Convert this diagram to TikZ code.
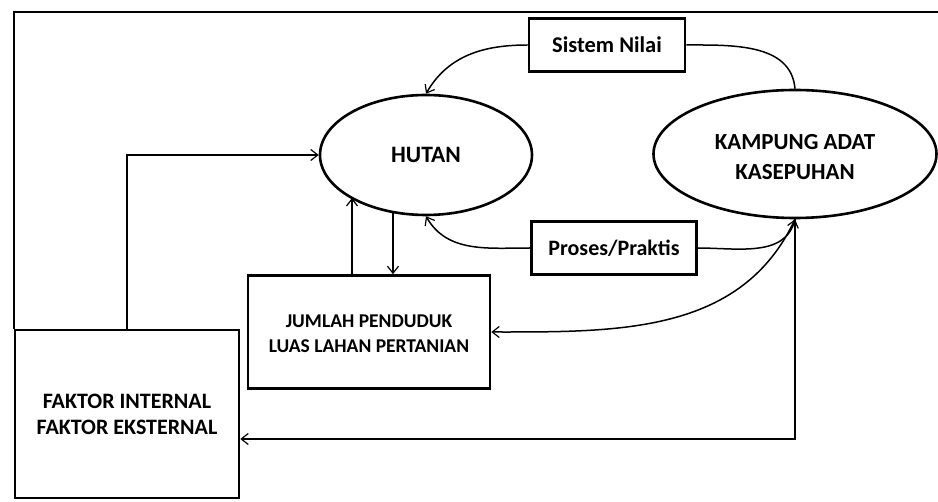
\documentclass[tikz,border=0pt]{standalone}
\usepackage{fontspec}
\setmainfont{Carlito}
\usetikzlibrary{shapes.geometric,arrows.meta,calc}
\tikzset{
  lbl/.style={font=\bfseries, align=center, inner sep=0pt},
  ell/.style={ellipse, draw, line width=2.6pt, inner sep=0pt},
  boxx/.style={rectangle, draw, line width=2.6pt, inner sep=0pt},
  conn/.style={line width=1.5pt},
  arr/.style={conn, -{Straight Barb[length=7pt,width=11pt,line width=1.2pt]}},
}
\begin{document}
\begin{tikzpicture}[x=1pt,y=1pt]
\useasboundingbox (0,0) rectangle (938,-502);
\fill[white] (0,0) rectangle (938,-502);

% nodes
\node[ell, minimum width=212, minimum height=120] (hutan) at (426,-155) {};
\node[lbl, font=\fontsize{23.5}{28}\selectfont\bfseries] at (hutan.center) {HUTAN};

\node[ell, minimum width=283, minimum height=128] (kampung) at (795,-154) {};
\node[lbl, font=\fontsize{23}{30}\selectfont\bfseries] at ($(kampung.center)+(0,-3)$) {KAMPUNG ADAT\\KASEPUHAN};

\node[boxx, minimum width=156, minimum height=53] (sistem) at (607,-45) {};
\node[lbl, font=\fontsize{22.5}{26}\selectfont\bfseries] at (sistem.center) {Sistem Nilai};

\node[boxx, minimum width=165, minimum height=53] (proses) at (614,-248) {};
\node[lbl, font=\fontsize{22}{26}\selectfont\bfseries] at (proses.center) {Proses/Praktis};

\node[boxx, minimum width=242, minimum height=113] (jumlah) at (369,-332) {};
\node[lbl, font=\fontsize{19.5}{25}\selectfont\bfseries] at ($(jumlah.center)+(0,-2)$) {JUMLAH PENDUDUK\\LUAS LAHAN PERTANIAN};

\node[boxx, minimum width=224, minimum height=168] (faktor) at (127,-414) {};
\node[lbl, font=\fontsize{22}{26}\selectfont\bfseries] at (faktor.center) {FAKTOR INTERNAL\\FAKTOR EKSTERNAL};

% helper coordinates
\coordinate (tr) at (938,-12);
\coordinate (hup) at ($(hutan.center)+(-74,-43)$);
\coordinate (hdown) at ($(hutan.center)+(-33,-57)$);
\coordinate (fk) at ($(faktor.east)+(0,-25)$);

% connectors
\draw[line width=1.8pt] (faktor.north west) |- (tr);
\draw[arr] (faktor.north) |- (hutan.west);
\draw[conn] (kampung.north) to[out=95,in=0] (sistem.east);
\draw[arr] (sistem.west) to[out=180,in=60] (hutan.north);
\draw[arr] (proses.west) to[out=180,in=-60] (hutan.south);
\draw[arr] (proses.east) to[out=0,in=-105] (kampung.south);
\draw[arr] (kampung.south) to[out=-115,in=0] (jumlah.east);
\draw[arr] (kampung.south) |- (fk);
\draw[arr] (jumlah.north -| hup) -- (hup);
\draw[arr] (hdown) -- (jumlah.north -| hdown);
\end{tikzpicture}
\end{document}
